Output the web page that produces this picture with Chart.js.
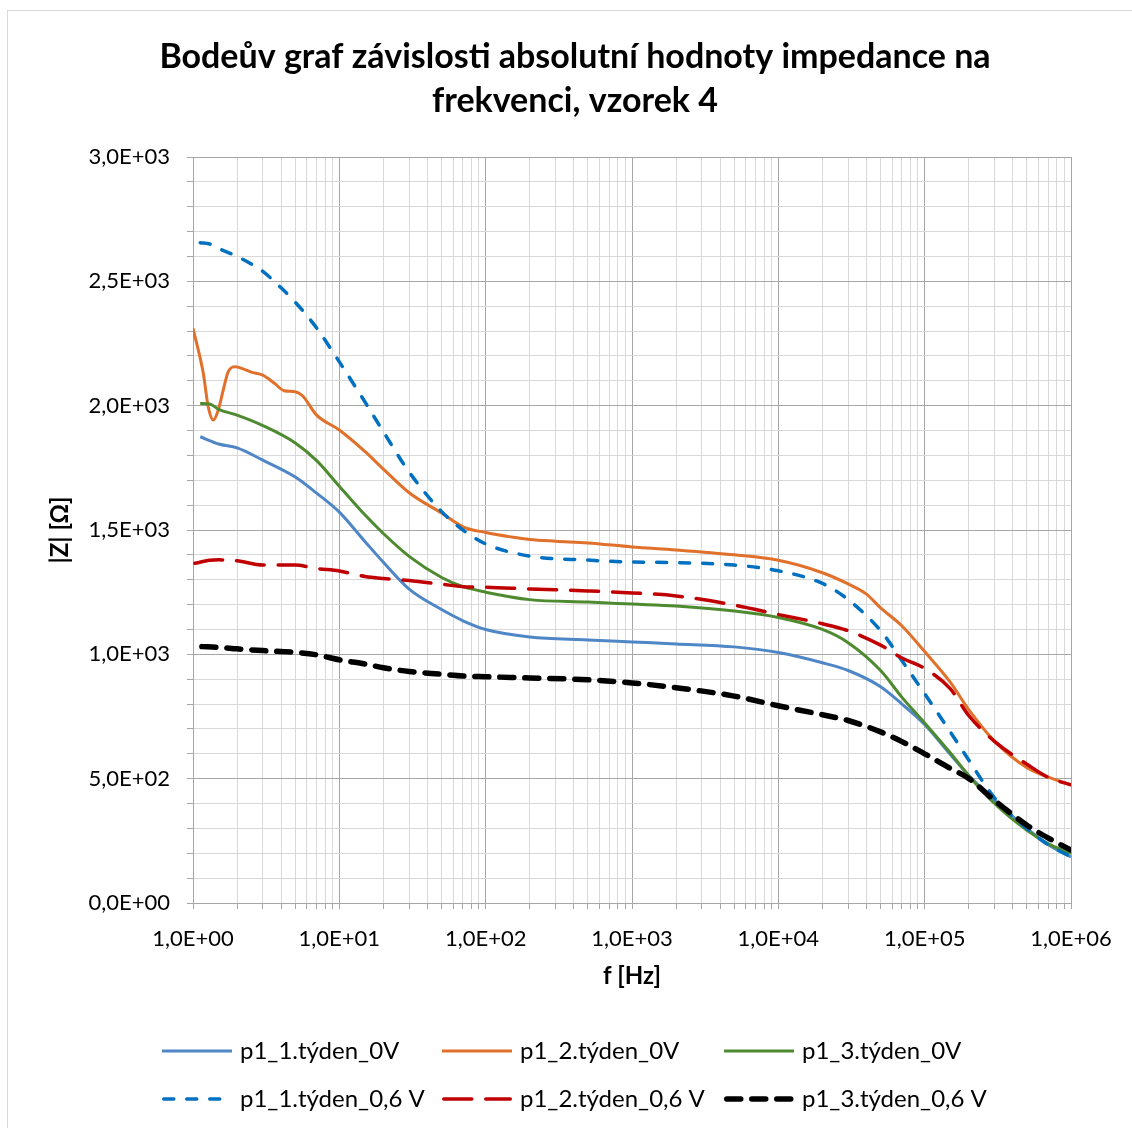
<!DOCTYPE html>
<html>
<head>
<meta charset="utf-8">
<script src="https://cdn.jsdelivr.net/npm/chart.js@4.4.1/dist/chart.umd.min.js"></script>
<style>
  html, body { margin: 0; padding: 0; background: #fff; }
  #wrap { position: relative; width: 1132px; height: 1128px; }
</style>
</head>
<body>
<div id="wrap"><canvas id="c" width="1132" height="1128"></canvas></div>
<script>
// ---------- DATA ----------
const chartTitle = ['Bodeův graf závislosti absolutní hodnoty impedance na', 'frekvenci, vzorek 4'];
const xAxisTitle = 'f [Hz]';
const yAxisTitle = '|Z| [Ω]';
const seriesNames = ['p1_1.týden_0V', 'p1_2.týden_0V', 'p1_3.týden_0V',
                     'p1_1.týden_0,6 V', 'p1_2.týden_0,6 V', 'p1_3.týden_0,6 V'];

// p1_1.týden_0V
const s1Freq = [1.12, 1.5, 2, 3, 5, 7, 10, 15, 20, 30, 50, 70, 100, 200, 500, 1e3, 2e3, 5e3, 1e4, 2e4, 3e4, 5e4, 7e4, 1e5, 1.5e5, 2e5, 3e5, 5e5, 7e5, 1e6];
const s1Z    = [1875, 1846, 1830, 1781, 1713, 1648, 1572, 1453, 1370, 1262, 1180, 1135, 1100, 1070, 1058, 1050, 1042, 1030, 1007, 966, 935, 870, 800, 718, 597, 514, 413, 300, 234, 185];

// p1_2.týden_0V
const s2Freq = [1.0, 1.176, 1.27, 1.376, 1.489, 1.61, 1.742, 1.95, 2.2, 2.5, 3, 3.6, 4.2, 5, 5.6, 7, 10, 15, 20, 30, 50, 70, 100, 150, 200, 300, 500, 1e3, 2e3, 5e3, 1e4, 2e4, 3e4, 4e4, 5e4, 7e4, 1e5, 1.5e5, 2e5, 3e5, 5e5, 7e5, 1e6];
const s2Z    = [2311, 2130, 1996, 1942, 1983, 2063, 2137, 2157, 2148, 2135, 2123, 2090, 2060, 2056, 2040, 1962, 1902, 1815, 1745, 1650, 1568, 1513, 1490, 1472, 1462, 1455, 1448, 1432, 1420, 1400, 1378, 1328, 1283, 1242, 1187, 1114, 1011, 887, 778, 651, 544, 506, 475];

// p1_3.týden_0V
const s3Freq = [1.12, 1.3, 1.5, 2, 3, 5, 7, 10, 15, 20, 30, 50, 70, 100, 200, 500, 1e3, 2e3, 5e3, 1e4, 2e4, 3e4, 5e4, 7e4, 1e5, 1.5e5, 2e5, 3e5, 5e5, 7e5, 1e6];
const s3Z    = [2009, 2007, 1985, 1962, 1920, 1850, 1779, 1676, 1560, 1486, 1394, 1309, 1272, 1250, 1220, 1210, 1202, 1194, 1174, 1148, 1100, 1047, 935, 827, 724, 603, 512, 400, 292, 238, 200];

// p1_1.týden_0,6 V
const s4Freq = [1.12, 1.3, 1.5, 2, 2.5, 3, 4, 5, 7, 10, 15, 20, 30, 50, 70, 100, 200, 500, 1e3, 2e3, 5e3, 1e4, 2e4, 3e4, 5e4, 7e4, 1e5, 1.5e5, 2e5, 3e5, 5e5, 7e5, 1e6];
const s4Z    = [2655, 2650, 2632, 2600, 2570, 2540, 2474, 2416, 2312, 2176, 2014, 1895, 1733, 1574, 1500, 1444, 1395, 1379, 1371, 1369, 1359, 1336, 1285, 1220, 1095, 974, 842, 687, 575, 423, 299, 234, 186];

// p1_2.týden_0,6 V
const s5Freq = [1.03, 1.3, 1.5, 2, 3, 5, 7, 10, 15, 20, 30, 50, 70, 100, 200, 500, 1e3, 2e3, 5e3, 1e4, 2e4, 3e4, 5e4, 7e4, 1e5, 1.5e5, 2e5, 3e5, 5e5, 7e5, 1e6];
const s5Z    = [1366, 1378, 1380, 1376, 1359, 1359, 1345, 1335, 1313, 1305, 1297, 1282, 1272, 1270, 1263, 1255, 1247, 1235, 1198, 1160, 1123, 1095, 1037, 985, 943, 861, 754, 650, 558, 505, 475];

// p1_3.týden_0,6 V
const s6Freq = [1.15, 1.5, 2, 3, 5, 7, 10, 15, 20, 30, 50, 70, 100, 200, 500, 1e3, 2e3, 5e3, 1e4, 2e4, 3e4, 5e4, 7e4, 1e5, 1.5e5, 2e5, 3e5, 5e5, 7e5, 1e6];
const s6Z    = [1031, 1028, 1022, 1015, 1008, 998, 978, 961, 946, 931, 920, 913, 910, 905, 898, 885, 866, 832, 793, 757, 734, 688, 649, 600, 541, 501, 413, 313, 261, 213];

const xDecades = [1, 10, 100, 1000, 10000, 100000, 1000000];
const yMin = 0, yMax = 3000, yMinorStep = 100, yMajorStep = 500;

// ---------- STYLES ----------
const seriesColors = ['#4f86c6', '#e0702a', '#4e8a30', '#0070c0', '#c00000', '#000000'];
const seriesWidths = [3, 3, 3, 3.5, 3.5, 5.5];
const seriesDashes = [[], [], [], [10, 13], [28, 14], [14, 11]];

function sci(v) {
  if (v === 0) return '0,0E+00';
  const e = Math.floor(Math.log10(v) + 1e-9);
  const m = v / Math.pow(10, e);
  const es = (e < 0 ? '-' : '+') + String(Math.abs(e)).padStart(2, '0');
  return m.toFixed(1).replace('.', ',') + 'E' + es;
}
function isDecade(v) {
  const l = Math.log10(v);
  return Math.abs(l - Math.round(l)) < 1e-9;
}

const freqs = [s1Freq, s2Freq, s3Freq, s4Freq, s5Freq, s6Freq];
const vals  = [s1Z, s2Z, s3Z, s4Z, s5Z, s6Z];

const datasets = seriesNames.map((name, i) => ({
  label: name,
  data: freqs[i].map((f, k) => ({ x: f, y: vals[i][k] })),
  borderColor: seriesColors[i],
  backgroundColor: seriesColors[i],
  borderWidth: seriesWidths[i],
  borderDash: seriesDashes[i],
  borderCapStyle: seriesDashes[i].length ? 'round' : 'butt',
  borderJoinStyle: 'round',
  showLine: true,
  pointRadius: 0,
  pointHoverRadius: 0,
  cubicInterpolationMode: 'monotone',
  fill: false,
  order: 5 - i
}));

const FONT = 'Lato, "Open Sans", sans-serif';
const PAD_LEFT = 79;

const legendPlugin = {
  id: 'customLegend',
  afterDraw(chart) {
    const ctx = chart.ctx;
    const cols = [162, 442, 724];
    const rows = [1051, 1099];
    ctx.save();
    ctx.font = '24px ' + FONT;
    ctx.textBaseline = 'middle';
    ctx.textAlign = 'left';
    chart.data.datasets.forEach((ds, i) => {
      const x0 = cols[i % 3], y0 = rows[Math.floor(i / 3)];
      ctx.beginPath();
      ctx.strokeStyle = ds.borderColor;
      ctx.lineWidth = ds.borderWidth;
      ctx.setLineDash(ds.borderDash || []);
      ctx.lineCap = ds.borderCapStyle;
      const cap = ds.borderDash.length ? ds.borderWidth / 2 : 0;
      ctx.moveTo(x0 + cap, y0);
      ctx.lineTo(x0 + 70 - cap, y0);
      ctx.stroke();
      ctx.setLineDash([]);
      ctx.fillStyle = '#000';
      ctx.fillText(ds.label, x0 + 78, y0);
    });
    ctx.restore();
  }
};

const framePlugin = {
  id: 'frame',
  beforeDraw(chart) {
    const ctx = chart.ctx;
    ctx.save();
    ctx.fillStyle = '#fff';
    ctx.fillRect(0, 0, chart.width, chart.height);
    ctx.strokeStyle = '#d9d9d9';
    ctx.lineWidth = 1;
    ctx.strokeRect(7.5, 10.5, chart.width + 20, chart.height + 20);
    ctx.restore();
  }
};

new Chart(document.getElementById('c'), {
  type: 'scatter',
  data: { datasets },
  plugins: [framePlugin, legendPlugin],
  options: {
    responsive: false,
    animation: false,
    events: [],
    layout: { padding: { left: PAD_LEFT, right: 61, top: 0, bottom: 135 } },
    plugins: {
      legend: { display: false },
      tooltip: { enabled: false },
      title: {
        display: true,
        text: chartTitle,
        color: '#000',
        font: { family: FONT, size: 34, weight: 'bold', lineHeight: 44 / 34 },
        padding: { top: 35, bottom: 34 }
      }
    },
    scales: {
      x: {
        type: 'logarithmic',
        min: xDecades[0],
        max: xDecades[xDecades.length - 1],
        afterBuildTicks(scale) {
          const t = [];
          for (let d = 0; d < xDecades.length - 1; d++) {
            for (let m = 1; m <= 9; m++) t.push({ value: xDecades[d] * m });
          }
          t.push({ value: xDecades[xDecades.length - 1] });
          scale.ticks = t;
        },
        afterFit(scale) { scale.height = 90; },
        ticks: {
          autoSkip: false,
          maxRotation: 0,
          minRotation: 0,
          padding: 17,
          color: '#000',
          font: { family: FONT, size: 22 },
          callback: (v) => isDecade(v) ? sci(v) : ''
        },
        grid: {
          color: (c) => (c.tick && isDecade(c.tick.value)) ? '#a6a6a6' : '#d9d9d9',
          tickColor: '#a6a6a6',
          tickLength: 6,
          lineWidth: 1
        },
        border: { color: '#a6a6a6' },
        title: {
          display: true,
          text: xAxisTitle,
          color: '#000',
          font: { family: FONT, size: 24, weight: 'bold', lineHeight: 1.2 },
          padding: { top: 0, bottom: 2 }
        }
      },
      y: {
        type: 'linear',
        min: yMin,
        max: yMax,
        afterFit(scale) { scale.width = 193 - PAD_LEFT; },
        ticks: {
          stepSize: yMinorStep,
          autoSkip: false,
          padding: 17,
          color: '#000',
          font: { family: FONT, size: 22 },
          callback: (v) => (v % yMajorStep === 0) ? sci(v) : ''
        },
        grid: {
          color: (c) => (c.tick && c.tick.value % yMajorStep === 0) ? '#a6a6a6' : '#d9d9d9',
          tickColor: '#a6a6a6',
          tickLength: 6,
          lineWidth: 1
        },
        border: { color: '#a6a6a6' },
        title: {
          display: true,
          text: yAxisTitle,
          color: '#000',
          font: { family: FONT, size: 24, weight: 'bold', lineHeight: 1.2 },
          padding: { top: 60 - PAD_LEFT - 14.4, bottom: 0 }
        }
      }
    }
  }
});
</script>
</body>
</html>
